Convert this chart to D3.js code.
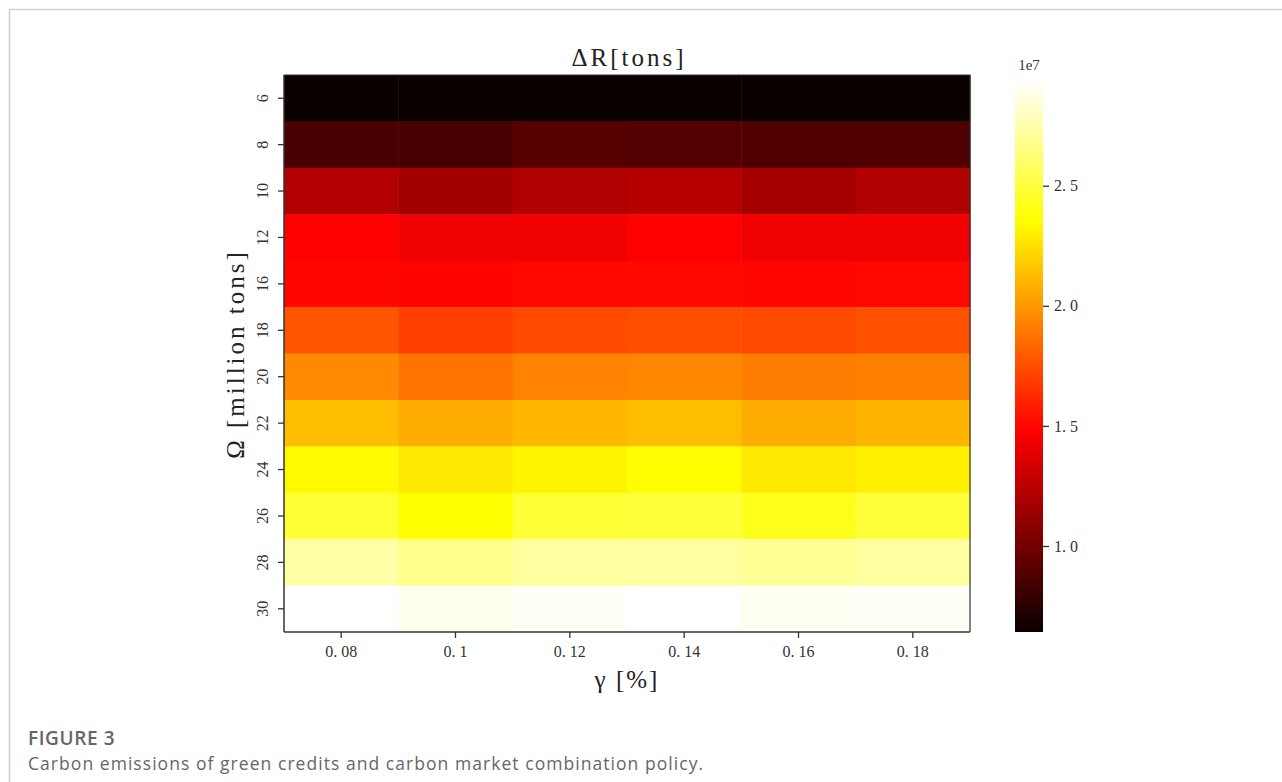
<!DOCTYPE html>
<html>
<head>
<meta charset="utf-8">
<script src="https://cdn.jsdelivr.net/npm/d3@7"></script>
<style>
  html, body { margin: 0; padding: 0; background: #fff; }
  svg { display: block; }
  .serif { font-family: "Liberation Serif", "Times New Roman", serif; }
  .sans { font-family: "Open Sans", "Noto Sans", sans-serif; }
</style>
</head>
<body>
<svg id="chart" width="1282" height="782"></svg>
<script>
// ---- data ----
const gammaValues = [0.08, 0.1, 0.12, 0.14, 0.16, 0.18];
const omegaValues = [6, 8, 10, 12, 16, 18, 20, 22, 24, 26, 28, 30];
// ΔR in units of 1e7 tons, one row per omega value, columns per gamma value
const row6  = [0.64, 0.64, 0.64, 0.64, 0.64, 0.64];
const row8  = [0.86, 0.85, 0.90, 0.89, 0.88, 0.88];
const row10 = [1.22, 1.16, 1.21, 1.23, 1.17, 1.21];
const row12 = [1.48, 1.43, 1.43, 1.48, 1.43, 1.43];
const row16 = [1.50, 1.49, 1.51, 1.51, 1.50, 1.51];
const row18 = [1.77, 1.70, 1.73, 1.75, 1.73, 1.76];
const row20 = [1.95, 1.88, 1.93, 1.94, 1.91, 1.92];
const row22 = [2.13, 2.07, 2.11, 2.13, 2.07, 2.10];
const row24 = [2.34, 2.28, 2.32, 2.35, 2.28, 2.31];
const row26 = [2.48, 2.36, 2.48, 2.49, 2.42, 2.49];
const row28 = [2.74, 2.67, 2.72, 2.72, 2.70, 2.72];
const row30 = [2.94, 2.90, 2.92, 2.94, 2.91, 2.92];
const deltaR = [row6, row8, row10, row12, row16, row18, row20, row22, row24, row26, row28, row30];
const colorbarTicks = [1.0, 1.5, 2.0, 2.5];
const colorMin = 0.642, colorMax = 2.94;
const titleText = "ΔR[tons]";
const xLabel = "γ [%]";
const yLabel = "Ω [million tons]";
const figureLabel = "FIGURE 3";
const captionText = "Carbon emissions of green credits and carbon market combination policy.";

// ---- matplotlib "hot" colormap ----
function hot(t) {
  t = Math.max(0, Math.min(1, t));
  const a = 0.365079, b = 0.746032;
  const r = t < a ? 0.0416 + (1 - 0.0416) * t / a : 1;
  const g = t < a ? 0 : (t < b ? (t - a) / (b - a) : 1);
  const bl = t < b ? 0 : (t - b) / (1 - b);
  return d3.rgb(r * 255, g * 255, bl * 255).toString();
}
const colorNorm = d3.scaleLinear().domain([colorMin, colorMax]).range([0, 1]);
const color = v => hot(colorNorm(v));

const svg = d3.select("#chart");
const fmt = v => String(v).replace(".", ". ");

// frame
svg.append("line").attr("x1", 9.5).attr("x2", 1282).attr("y1", 9.5).attr("y2", 9.5).attr("stroke", "#cfcfcf").attr("stroke-width", 1.5);
svg.append("line").attr("x1", 9.5).attr("x2", 9.5).attr("y1", 9.5).attr("y2", 782).attr("stroke", "#cfcfcf").attr("stroke-width", 1.5);

// plot area
const L = 284, R = 970, T = 75, B = 632;
const x = d3.scaleBand().domain(gammaValues).range([L, R]).padding(0);
const y = d3.scaleBand().domain(omegaValues).range([T, B]).padding(0);

const cells = [];
omegaValues.forEach((o, i) => gammaValues.forEach((g, j) => cells.push({o, g, v: deltaR[i][j]})));
svg.append("g").selectAll("rect").data(cells).join("rect")
  .attr("x", d => x(d.g)).attr("y", d => y(d.o))
  .attr("width", x.bandwidth() + 0.5).attr("height", y.bandwidth() + 0.5)
  .attr("fill", d => color(d.v));

// axes
const xAxis = svg.append("g").attr("transform", `translate(0,${B})`)
  .call(d3.axisBottom(x).tickSize(6).tickPadding(8).tickFormat(fmt));
const yAxis = svg.append("g").attr("transform", `translate(${L},0)`)
  .call(d3.axisLeft(y).tickSize(6).tickPadding(6).tickFormat(d => d));
[xAxis, yAxis].forEach(a => {
  a.attr("font-family", null);
  a.select(".domain").attr("stroke", "#333").attr("stroke-width", 1.5);
  a.selectAll(".tick line").attr("stroke", "#333").attr("stroke-width", 1.3);
  a.selectAll("text").attr("class", "serif").attr("font-size", 16).attr("fill", "#333");
});
xAxis.select(".domain").attr("d", `M${L},0H${R}`);
yAxis.select(".domain").attr("d", `M0,${T}V${B}`);
yAxis.selectAll(".tick text")
  .attr("x", null).attr("dy", null)
  .attr("text-anchor", "middle")
  .attr("transform", "translate(-22,0) rotate(-90)")
  .attr("dominant-baseline", "central");
// top and right borders
svg.append("path").attr("d", `M${L},${T}H${R}V${B}`).attr("fill", "none").attr("stroke", "#333").attr("stroke-width", 1.2);

// title & labels
svg.append("text").attr("class", "serif").attr("x", 629).attr("y", 66).attr("text-anchor", "middle")
  .attr("font-size", 25).attr("fill", "#222")
  .attr("letter-spacing", 3).text(titleText);
svg.append("text").attr("class", "serif").attr("x", 627).attr("y", 688).attr("text-anchor", "middle")
  .attr("font-size", 25).attr("fill", "#222").attr("letter-spacing", 2).text(xLabel);
svg.append("text").attr("class", "serif").attr("transform", "translate(244,354) rotate(-90)").attr("text-anchor", "middle")
  .attr("font-size", 25).attr("fill", "#222")
  .attr("letter-spacing", 3).text(yLabel);

// colorbar
const cbX = 1015, cbW = 28, cbT = 80, cbB = 632;
const cy = d3.scaleLinear().domain([colorMin, colorMax]).range([cbB, cbT]);
const defs = svg.append("defs");
const grad = defs.append("linearGradient").attr("id", "cbgrad").attr("x1", 0).attr("x2", 0).attr("y1", 1).attr("y2", 0);
d3.range(0, 1.0001, 0.02).forEach(t => grad.append("stop").attr("offset", t).attr("stop-color", hot(t)));
svg.append("rect").attr("x", cbX).attr("y", cbT).attr("width", cbW).attr("height", cbB - cbT).attr("fill", "url(#cbgrad)");
const cbAxis = svg.append("g").attr("transform", `translate(${cbX + cbW},0)`)
  .call(d3.axisRight(cy).tickValues(colorbarTicks).tickSize(6).tickPadding(5).tickFormat(d => fmt(d.toFixed(1))));
cbAxis.attr("font-family", null);
cbAxis.select(".domain").remove();
cbAxis.selectAll(".tick line").attr("stroke", "#333").attr("stroke-width", 1.3);
cbAxis.selectAll("text").attr("class", "serif").attr("font-size", 16).attr("fill", "#333");
svg.append("text").attr("class", "serif").attr("x", 1029).attr("y", 70).attr("text-anchor", "middle")
  .attr("font-size", 15).attr("fill", "#333").text("1e7");

// caption
svg.append("text").attr("class", "sans").attr("x", 28).attr("y", 745)
  .attr("font-size", 19).attr("font-weight", 600).attr("letter-spacing", 0.6)
  .attr("fill", "#666").text(figureLabel);
svg.append("text").attr("class", "sans").attr("x", 28).attr("y", 770)
  .attr("font-size", 17.5).attr("letter-spacing", 1.05)
  .attr("fill", "#666").text(captionText);
</script>
</body>
</html>
